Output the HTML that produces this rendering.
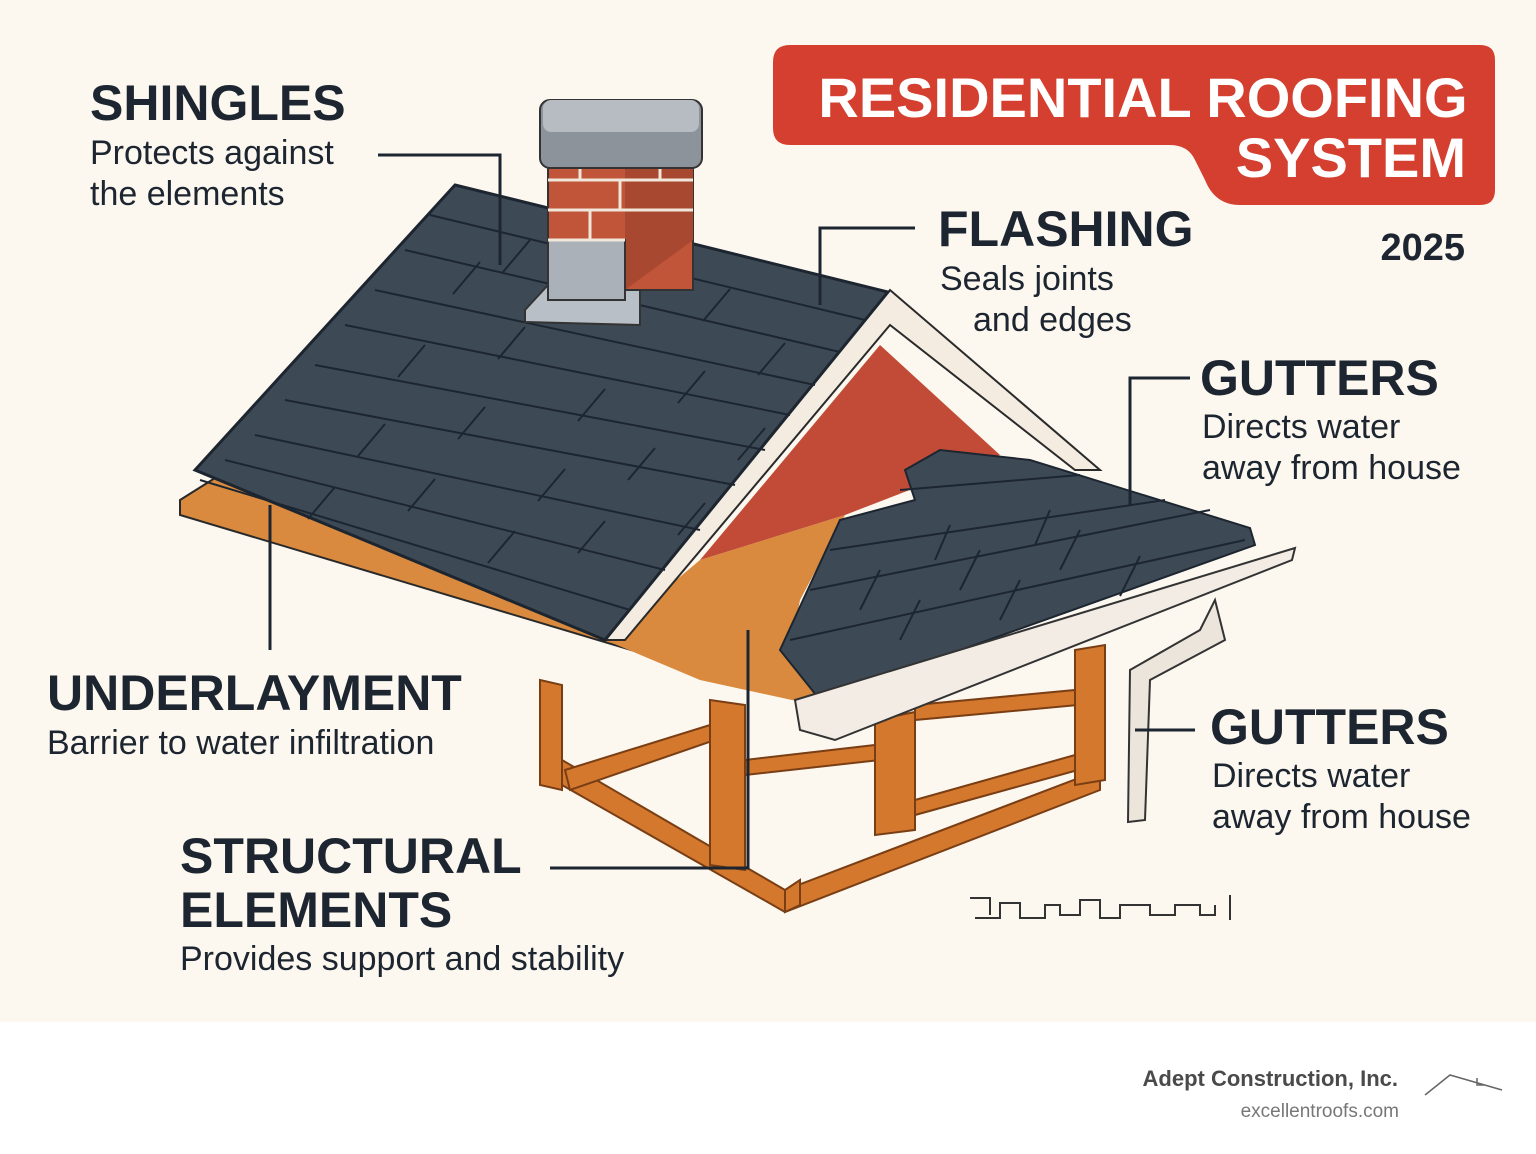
<!DOCTYPE html>
<html><head><meta charset="utf-8"><style>
html,body{margin:0;padding:0;}
body{width:1536px;height:1154px;background:#fff;font-family:"Liberation Sans",sans-serif;}
svg{display:block}
</style></head><body>
<svg width="1536" height="1154" viewBox="0 0 1536 1154" xmlns="http://www.w3.org/2000/svg" font-family="Liberation Sans, sans-serif">
<rect x="0" y="0" width="1536" height="1022" fill="#fcf8f0"/>
<rect x="0" y="1022" width="1536" height="132" fill="#ffffff"/>

<!-- title box -->
<path d="M790 45 H1480 Q1495 45 1495 60 V190 Q1495 205 1480 205 H1240 Q1215 205 1205 180 L1195 160 Q1188 145 1170 145 H790 Q773 145 773 128 V62 Q773 45 790 45 Z" fill="#d43f2f"/>
<text x="1143" y="117" font-size="56" font-weight="bold" fill="#fff" text-anchor="middle">RESIDENTIAL ROOFING</text>
<text x="1466" y="177" font-size="56" font-weight="bold" fill="#fff" text-anchor="end">SYSTEM</text>
<text x="1465" y="260" font-size="38" font-weight="bold" fill="#1d2630" text-anchor="end">2025</text>

<!-- frame -->
<g fill="#d4782e" stroke="#7a3e14" stroke-width="2">
<polygon points="540,680 562,685 562,790 540,785"/>
<polygon points="562,760 785,890 1100,770 1100,790 785,912 562,785"/>
<polygon points="565,770 710,725 715,740 570,790"/>
<polygon points="710,700 745,705 745,870 710,865"/>
<polygon points="745,760 875,745 880,760 745,775"/>
<polygon points="875,720 915,712 915,830 875,835"/>
<polygon points="915,705 1075,690 1078,705 915,720"/>
<polygon points="915,800 1075,755 1078,770 915,815"/>
<polygon points="1075,650 1105,645 1105,780 1075,785"/>
<polygon points="785,890 800,880 800,905 785,912"/>
</g>

<!-- underlayment deck -->
<polygon points="180,500 215,478 620,630 815,680 815,705 180,515" fill="#d98a3e" stroke="#2a2a2a" stroke-width="2"/>
<polygon points="605,640 700,560 845,515 800,600 790,650 815,705 700,680" fill="#d98a3e"/>
<!-- gable red -->
<polygon points="700,560 880,345 1000,455 845,515" fill="#c14b36"/>
<!-- gable white trim -->
<polygon points="600,640 890,290 1100,470 1075,470 890,325 625,640" fill="#f4ece0" stroke="#2a2a2a" stroke-width="2"/>

<!-- left roof plane -->
<polygon points="455,185 888,292 605,640 195,470" fill="#3d4a56" stroke="#1d2630" stroke-width="3"/>
<g stroke="#1d2630" stroke-width="2" fill="none">
<line x1="430" y1="215" x2="865" y2="320"/>
<line x1="405" y1="250" x2="840" y2="352"/>
<line x1="375" y1="290" x2="815" y2="385"/>
<line x1="345" y1="325" x2="790" y2="415"/>
<line x1="315" y1="365" x2="765" y2="450"/>
<line x1="285" y1="400" x2="735" y2="485"/>
<line x1="255" y1="435" x2="700" y2="530"/>
<line x1="225" y1="460" x2="665" y2="570"/>
<line x1="200" y1="480" x2="630" y2="610"/>
</g>
<g stroke="#1d2630" stroke-width="2">
<line x1="530" y1="240" x2="503" y2="272"/><line x1="730" y1="289" x2="703" y2="321"/>
<line x1="785" y1="343" x2="758" y2="375"/><line x1="480" y1="262" x2="453" y2="294"/>
<line x1="525" y1="327" x2="498" y2="359"/><line x1="705" y1="371" x2="678" y2="403"/>
<line x1="425" y1="345" x2="398" y2="377"/><line x1="605" y1="389" x2="578" y2="421"/><line x1="765" y1="428" x2="738" y2="460"/>
<line x1="485" y1="407" x2="458" y2="439"/><line x1="655" y1="448" x2="628" y2="480"/>
<line x1="385" y1="424" x2="358" y2="456"/><line x1="565" y1="469" x2="538" y2="501"/><line x1="705" y1="503" x2="678" y2="535"/>
<line x1="435" y1="479" x2="408" y2="511"/><line x1="605" y1="521" x2="578" y2="553"/>
<line x1="335" y1="487" x2="308" y2="519"/><line x1="515" y1="531" x2="488" y2="563"/>
</g>

<!-- chimney -->
<polygon points="525,310 548,285 640,290 640,325 525,322" fill="#b9bfc6" stroke="#333" stroke-width="2"/>
<rect x="548" y="150" width="145" height="140" fill="#c0553a" stroke="#333" stroke-width="2"/>
<polygon points="625,150 693,150 693,240 625,290" fill="#a84830"/>
<rect x="548" y="240" width="77" height="60" fill="#aab1b8" stroke="#333" stroke-width="2"/>
<g stroke="#f0e6da" stroke-width="3">
<line x1="548" y1="180" x2="693" y2="180"/><line x1="548" y1="210" x2="693" y2="210"/><line x1="548" y1="240" x2="625" y2="240"/>
<line x1="580" y1="150" x2="580" y2="180"/><line x1="620" y1="180" x2="620" y2="210"/><line x1="590" y1="210" x2="590" y2="240"/><line x1="660" y1="150" x2="660" y2="180"/>
</g>
<rect x="540" y="100" width="162" height="68" rx="10" fill="#8c939a" stroke="#333" stroke-width="2"/>
<rect x="543" y="100" width="156" height="32" rx="8" fill="#b6bcc2"/>

<!-- right roof section -->
<polygon points="780,650 840,520 915,500 905,470 940,450 1030,460 1250,528 1255,545 820,700" fill="#3d4a56" stroke="#1d2630" stroke-width="2"/>
<g stroke="#1d2630" stroke-width="2">
<line x1="810" y1="590" x2="1210" y2="510"/><line x1="790" y1="640" x2="1245" y2="540"/><line x1="830" y1="550" x2="1165" y2="500"/><line x1="900" y1="490" x2="1080" y2="475"/>
<line x1="880" y1="570" x2="860" y2="610"/><line x1="980" y1="550" x2="960" y2="590"/><line x1="1080" y1="530" x2="1060" y2="570"/>
<line x1="920" y1="600" x2="900" y2="640"/><line x1="1020" y1="580" x2="1000" y2="620"/><line x1="1140" y1="556" x2="1120" y2="596"/>
<line x1="950" y1="525" x2="935" y2="560"/><line x1="1050" y1="510" x2="1035" y2="545"/>
</g>
<!-- gutter -->
<polygon points="795,700 1295,548 1292,560 835,740 800,730" fill="#f2ece4" stroke="#333" stroke-width="2"/>
<path d="M1215 600 L1225 640 L1150 680 L1145 820 L1128 822 L1130 670 L1200 630 Z" fill="#ece5dc" stroke="#333" stroke-width="2"/>

<!-- leader lines -->
<g stroke="#1d2630" stroke-width="3" fill="none">
<polyline points="378,155 500,155 500,265"/>
<polyline points="915,228 820,228 820,305"/>
<polyline points="1190,378 1130,378 1130,505"/>
<line x1="270" y1="505" x2="270" y2="650"/>
<polyline points="550,868 748,868 748,630"/>
<line x1="1135" y1="730" x2="1195" y2="730"/>
</g>
<path d="M970 898 H990 V915 M975 918 H1000 V903 H1020 V918 H1045 V905 H1060 V915 H1080 V900 H1100 V918 H1120 V905 H1150 V915 H1175 V905 H1200 V915 H1215 V905 M1230 895 V920" stroke="#333" stroke-width="2" fill="none"/>

<!-- labels -->
<g fill="#1d2630">
<text x="90" y="120" font-size="50" font-weight="bold">SHINGLES</text>
<text x="90" y="164" font-size="34">Protects against</text>
<text x="90" y="205" font-size="34">the elements</text>
<text x="938" y="246" font-size="50" font-weight="bold">FLASHING</text>
<text x="940" y="290" font-size="34">Seals joints</text>
<text x="973" y="331" font-size="34">and edges</text>
<text x="1200" y="395" font-size="50" font-weight="bold">GUTTERS</text>
<text x="1202" y="438" font-size="34">Directs water</text>
<text x="1202" y="479" font-size="34">away from house</text>
<text x="47" y="710" font-size="50" font-weight="bold">UNDERLAYMENT</text>
<text x="47" y="754" font-size="34">Barrier to water infiltration</text>
<text x="1210" y="744" font-size="50" font-weight="bold">GUTTERS</text>
<text x="1212" y="787" font-size="34">Directs water</text>
<text x="1212" y="828" font-size="34">away from house</text>
<text x="180" y="873" font-size="50" font-weight="bold">STRUCTURAL</text>
<text x="180" y="927" font-size="50" font-weight="bold">ELEMENTS</text>
<text x="180" y="970" font-size="34">Provides support and stability</text>
</g>

<!-- footer -->
<text x="1398" y="1086" font-size="22" font-weight="bold" fill="#4a4a4a" text-anchor="end">Adept Construction, Inc.</text>
<text x="1399" y="1117" font-size="19" fill="#777" text-anchor="end">excellentroofs.com</text>
<path d="M1425 1095 L1450 1075 L1502 1090 M1477 1078 V1085 H1485" stroke="#666" stroke-width="1.5" fill="none"/>
</svg>
</body></html>
